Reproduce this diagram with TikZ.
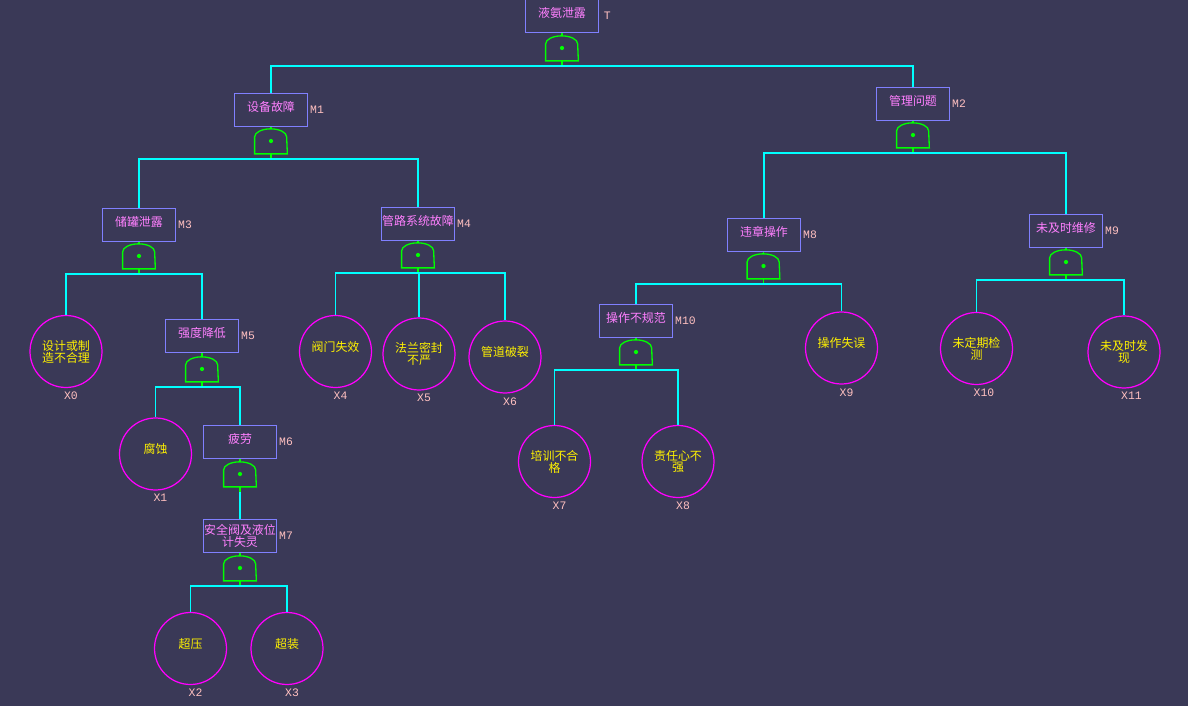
\documentclass[tikz,border=0pt]{standalone}
\usepackage{fontspec}
\newfontfamily\cjk{Noto Sans CJK SC}
\newfontfamily\labfont{Liberation Mono}
\usetikzlibrary{positioning}
\definecolor{bgc}{RGB}{58,57,87}
\definecolor{boxc}{RGB}{128,128,255}
\definecolor{boxtxt}{RGB}{255,128,255}
\definecolor{labc}{RGB}{255,192,192}
\definecolor{gatec}{RGB}{0,255,0}
\definecolor{circc}{RGB}{255,0,255}
\definecolor{connc}{RGB}{0,255,255}

\begin{document}
\begin{tikzpicture}[x=0.02cm, y=0.02cm,
    evt/.style={draw=boxc, rectangle, minimum width=1.46cm, minimum height=0.66cm, inner sep=0pt, line width=0.7pt, align=center, text=boxtxt, font=\cjk\fontsize{6.8pt}{6.8pt}\selectfont},
    evtone/.style={evt, text height=6pt, text depth=4pt},
    basic/.style={draw=circc, circle, minimum size=1.44cm, inner sep=0pt, line width=0.7pt, align=center, text=yellow, font=\cjk\fontsize{6.8pt}{6.8pt}\selectfont},
    basicone/.style={basic, text height=6pt, text depth=6.4pt},
    gate/.style={rectangle, minimum width=0.64cm, minimum height=0.5cm, inner sep=0pt},
    lab/.style={font=\labfont\fontsize{6.5pt}{6.5pt}\selectfont, text=labc, inner sep=0pt},
    conn/.style={draw=connc, line width=0.75pt},
    stem/.style={draw=gatec, line width=0.75pt}]
    \fill[bgc] (0,0) rectangle (1188,-706);
    \useasboundingbox (0,0) rectangle (1188,-706);
    % events
    \node[evtone] (t) at (562,-16) {液氨泄露};
    \node[evtone] (m1) at (271,-110) {设备故障};
    \node[evtone] (m2) at (913,-104) {管理问题};
    \node[evtone] (m3) at (139,-225) {储罐泄露};
    \node[evtone] (m4) at (418,-224) {管路系统故障};
    \node[evtone] (m5) at (202,-336) {强度降低};
    \node[evtone] (m6) at (240,-442) {疲劳};
    \node[evt] (m7) at (240,-536) {安全阀及液位\\计失灵};
    \node[evtone] (m8) at (764,-235) {违章操作};
    \node[evtone] (m9) at (1066,-231) {未及时维修};
    \node[evtone] (m10) at (636,-321) {操作不规范};
    \node[lab, right=2.5pt of t] (tl) {T};
    \node[lab, right=1pt of m1] (m1l) {M1};
    \node[lab, right=1pt of m2] (m2l) {M2};
    \node[lab, right=1pt of m3] (m3l) {M3};
    \node[lab, right=1pt of m4] (m4l) {M4};
    \node[lab, right=1pt of m5] (m5l) {M5};
    \node[lab, right=1pt of m6] (m6l) {M6};
    \node[lab, right=1pt of m7] (m7l) {M7};
    \node[lab, right=1pt of m8] (m8l) {M8};
    \node[lab, right=1pt of m9] (m9l) {M9};
    \node[lab, right=1pt of m10] (m10l) {M10};
    % gates
    \node[gate] (g0) at (562,-48) {};
    \node[gate] (g1) at (271,-141) {};
    \node[gate] (g2) at (913,-135) {};
    \node[gate] (g3) at (139,-256) {};
    \node[gate] (g4) at (418,-255) {};
    \node[gate] (g5) at (202,-369) {};
    \node[gate] (g6) at (240,-474) {};
    \node[gate] (g7) at (240,-568) {};
    \node[gate] (g8) at (763.5,-266) {};
    \node[gate] (g9) at (1066,-262) {};
    \node[gate] (g10) at (636,-352) {};
    \foreach \e/\g in {t/g0, m1/g1, m2/g2, m3/g3, m4/g4, m5/g5, m6/g6, m7/g7, m8/g8, m9/g9, m10/g10}{
      \draw[stem] (\g.north) -- (\g.north |- \e.south);
      \draw[stem] (\g.south west) -- ++(0,17) arc[start angle=180, end angle=0, x radius=0.32cm, y radius=0.16cm] -- (\g.south east) -- cycle;
      \fill[gatec] (\g.center) circle[radius=1.2pt];
      \draw[stem] (\g.south) -- ++(0,-5) coordinate (\g-b);
    }
    % basic events
    \node[basic] (x0) at (66,-351.5) {设计或制\\造不合理};
    \node[basicone] (x1) at (155.5,-454) {腐蚀};
    \node[basicone] (x2) at (190.5,-648.5) {超压};
    \node[basicone] (x3) at (287,-648.5) {超装};
    \node[basicone] (x4) at (335.5,-351.5) {阀门失效};
    \node[basic] (x5) at (419,-354) {法兰密封\\不严};
    \node[basicone] (x6) at (505,-357) {管道破裂};
    \node[basic] (x7) at (554.5,-461.5) {培训不合\\格};
    \node[basic] (x8) at (678,-461.5) {责任心不\\强};
    \node[basicone] (x9) at (841.5,-348) {操作失误};
    \node[basic] (x10) at (976.5,-348.5) {未定期检\\测};
    \node[basic] (x11) at (1124,-352) {未及时发\\现};
    \node[lab, below=2pt of x0, xshift=0.1cm] (x0l) {X0};
    \node[lab, below=2pt of x1, xshift=0.1cm] (x1l) {X1};
    \node[lab, below=2pt of x2, xshift=0.1cm] (x2l) {X2};
    \node[lab, below=2pt of x3, xshift=0.1cm] (x3l) {X3};
    \node[lab, below=2pt of x4, xshift=0.1cm] (x4l) {X4};
    \node[lab, below=2pt of x5, xshift=0.1cm] (x5l) {X5};
    \node[lab, below=2pt of x6, xshift=0.1cm] (x6l) {X6};
    \node[lab, below=2pt of x7, xshift=0.1cm] (x7l) {X7};
    \node[lab, below=2pt of x8, xshift=0.1cm] (x8l) {X8};
    \node[lab, below=2pt of x9, xshift=0.1cm] (x9l) {X9};
    \node[lab, below=2pt of x10, xshift=0.15cm] (x10l) {X10};
    \node[lab, below=2pt of x11, xshift=0.15cm] (x11l) {X11};
    % connectors
    \draw[conn] (g0-b) -| (m1.north);
    \draw[conn] (g0-b) -| (m2.north);
    \draw[conn] (g1-b) -| (m3.north);
    \draw[conn] (g1-b) -| (m4.north);
    \draw[conn] (g2-b) -| (m8.north);
    \draw[conn] (g2-b) -| (m9.north);
    \draw[conn] (g3-b) -| (x0.north);
    \draw[conn] (g3-b) -| (m5.north);
    \draw[conn] (g4-b) -| (x4.north);
    \draw[conn] (g4-b) -| (x5.north);
    \draw[conn] (g4-b) -| (x6.north);
    \draw[conn] (g5-b) -| (x1.north);
    \draw[conn] (g5-b) -| (m6.north);
    \draw[conn] (g6-b) -- (m7.north);
    \draw[conn] (g7-b) -| (x2.north);
    \draw[conn] (g7-b) -| (x3.north);
    \draw[conn] (g8-b) -| (m10.north);
    \draw[conn] (g8-b) -| (x9.north);
    \draw[conn] (g9-b) -| (x10.north);
    \draw[conn] (g9-b) -| (x11.north);
    \draw[conn] (g10-b) -| (x7.north);
    \draw[conn] (g10-b) -| (x8.north);
\end{tikzpicture}
\end{document}
